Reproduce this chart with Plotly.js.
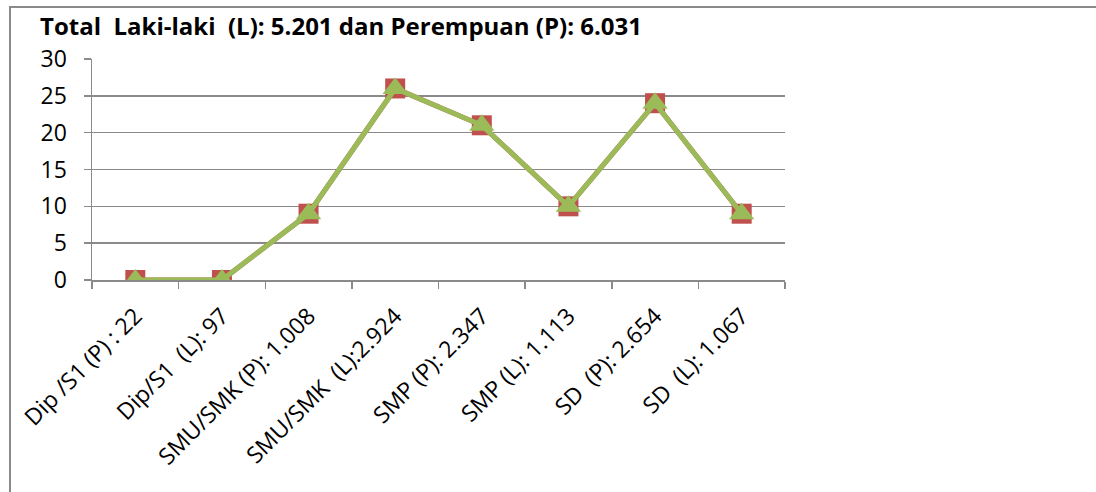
<!DOCTYPE html>
<html>
<head>
<meta charset="utf-8">
<script src="https://cdn.plot.ly/plotly-3.0.1.min.js"></script>
<style>
  html, body { margin: 0; padding: 0; background: #fff; }
  #wrap { position: relative; width: 1096px; height: 492px; overflow: hidden; }
  #chart { width: 1096px; height: 492px; }
  #frame { position: absolute; left: 9px; top: 6px; width: 1200px; height: 600px;
           border-left: 2px solid #8a8a8a; border-top: 2px solid #8a8a8a; pointer-events: none; }
</style>
</head>
<body>
<div id="wrap">
  <div id="chart"></div>
  <div id="frame"></div>
</div>
<script>
const categories = [
  "Dip /S1 (P) : 22",
  "Dip/S1  (L): 97",
  "SMU/SMK (P): 1.008",
  "SMU/SMK  (L):2.924",
  "SMP (P): 2.347",
  "SMP (L): 1.113",
  "SD  (P): 2.654",
  "SD  (L): 1.067"
];
const seriesA = [0, 0, 9, 26, 21, 10, 24, 9];
const seriesB = [0, 0, 9, 26, 21, 10, 24, 9];
const yTicks = [0, 5, 10, 15, 20, 25, 30];
const titleText = "Total  Laki-laki  (L): 5.201 dan Perempuan (P): 6.031";

const FONT = "'Open Sans', sans-serif";

const traces = [
  {
    x: categories, y: seriesA, type: "scatter", mode: "lines+markers",
    line: { color: "#C0504D", width: 5 },
    marker: { symbol: "square", size: 20, color: "#C0504D" },
    showlegend: false, hoverinfo: "skip"
  },
  {
    x: categories, y: seriesB, type: "scatter", mode: "lines+markers",
    line: { color: "#9BBB59", width: 5 },
    marker: { symbol: "triangle-up", size: 22, color: "#9BBB59" },
    showlegend: false, hoverinfo: "skip"
  }
];

const layout = {
  width: 1096, height: 492,
  margin: { l: 92, r: 311, t: 59, b: 212 },
  paper_bgcolor: "#fff", plot_bgcolor: "#fff",
  font: { family: FONT, color: "#000" },
  title: {
    text: "<b>" + titleText + "</b>",
    x: 40 / 1096, xanchor: "left", xref: "container",
    y: 1 - 27 / 492, yanchor: "middle", yref: "container",
    font: { size: 24, family: FONT, color: "#000" }
  },
  xaxis: {
    type: "category",
    range: [-0.5, categories.length - 0.5],
    tickangle: -45,
    tickfont: { size: 23, family: FONT },
    ticklabelstandoff: 12,
    showgrid: false,
    showline: true, linecolor: "#8a8a8a", linewidth: 1.5,
    ticks: "outside", ticklen: 7, tickcolor: "#8a8a8a", tickwidth: 1.5,
    tickson: "boundaries",
    zeroline: false, fixedrange: true
  },
  yaxis: {
    range: [0, 30],
    tickvals: yTicks,
    ticktext: yTicks.map(String),
    tickfont: { size: 23, family: FONT },
    ticklabelstandoff: 12,
    showgrid: true, gridcolor: "#8a8a8a", gridwidth: 1.5,
    showline: true, linecolor: "#8a8a8a", linewidth: 1.5,
    ticks: "outside", ticklen: 7, tickcolor: "#8a8a8a", tickwidth: 1.5,
    zeroline: false, fixedrange: true
  }
};

Plotly.newPlot("chart", traces, layout, { staticPlot: true, displayModeBar: false });
</script>
</body>
</html>
